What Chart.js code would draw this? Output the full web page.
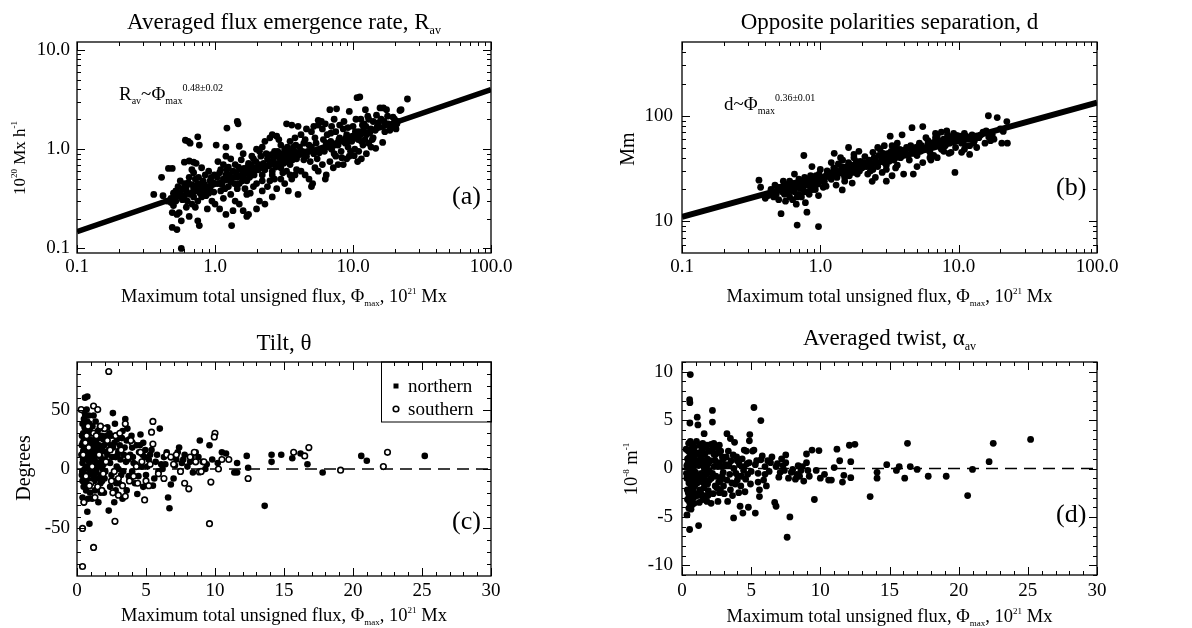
<!DOCTYPE html>
<html>
<head>
<meta charset="utf-8">
<script src="https://cdn.jsdelivr.net/npm/chart.js@4.4.1/dist/chart.umd.min.js"></script>
<style>
  body { margin: 0; background: #fff; }
  #wrap { position: relative; width: 1192px; height: 628px; }
  canvas { position: absolute; }
</style>
</head>
<body>
<div id="wrap">
  <canvas id="panelA" width="596" height="314" style="left:0;top:0"></canvas>
  <canvas id="panelB" width="596" height="314" style="left:596px;top:0"></canvas>
  <canvas id="panelC" width="596" height="314" style="left:0;top:314px"></canvas>
  <canvas id="panelD" width="596" height="314" style="left:596px;top:314px"></canvas>
</div>
<script>
const SERIF = '"Liberation Serif", "DejaVu Serif", serif';

// ---------------------------------------------------------------------------
// Data: [flux (1e21 Mx), value]
// ---------------------------------------------------------------------------
const rateAvPoints = [
  [0.36,0.35],[0.41,0.52],[0.46,0.64],[0.49,0.64],[0.42,0.34],[0.45,0.30],[0.48,0.29],[0.50,0.27],[0.48,0.32],[0.50,0.36],
  [0.49,0.163],[0.53,0.155],[0.57,0.10],[0.49,0.23],[0.53,0.22],[0.55,0.23],[0.57,0.19],[0.52,0.38],[0.55,0.34],[0.54,0.42],
  [0.56,0.36],[0.58,0.31],[0.60,0.33],[0.62,0.38],[0.60,0.45],[0.63,0.30],
  [0.61,1.23],[0.64,1.20],[0.66,1.15],[0.75,1.33],[0.77,1.10],[0.60,0.74],[0.65,0.76],[0.70,0.74],[0.73,0.72],[0.68,0.62],
  [0.72,0.50],[0.65,0.52],[0.75,0.45],[0.80,0.42],[0.85,0.40],[0.90,0.42],[0.68,0.28],[0.72,0.26],[0.75,0.30],[0.80,0.33],
  [0.78,0.36],[0.83,0.35],[0.88,0.38],[0.95,0.44],[0.65,0.21],[0.75,0.19],[0.77,0.17],[0.62,0.26],[0.70,0.40],[0.85,0.55],
  [0.92,0.48],[0.98,0.37],[0.95,0.30],[0.88,0.25],[0.70,0.58],[0.80,0.65],[0.90,0.60],
  [0.52,0.30],[0.58,0.40],[0.62,0.42],[0.66,0.35],[0.70,0.33],[0.74,0.38],[0.78,0.44],[0.82,0.48],[0.86,0.34],[0.90,0.36],
  [0.94,0.52],[0.97,0.46],[0.56,0.48],[0.64,0.46],[0.68,0.44],[0.72,0.42],[0.76,0.52],[0.84,0.44],[0.92,0.40],[0.99,0.55],
  [1.02,1.10],[1.20,1.05],[1.22,1.63],[1.45,1.90],[1.47,1.80],[1.50,1.07],[1.32,0.17],[1.05,0.75],[1.10,0.62],[1.15,0.50],
  [1.20,0.55],[1.25,0.42],[1.30,0.47],[1.05,0.45],[1.10,0.38],[1.15,0.32],[1.00,0.28],[1.08,0.25],[1.20,0.22],[1.30,0.35],
  [1.35,0.60],[1.40,0.70],[1.45,0.52],[1.50,0.45],[1.55,0.62],[1.60,0.56],[1.65,0.50],[1.70,0.48],[1.75,0.72],[1.80,0.60],
  [1.85,0.55],[1.40,0.30],[1.50,0.28],[1.60,0.24],[1.70,0.21],[1.75,0.22],[1.80,0.36],[1.90,0.42],[1.95,0.65],[1.90,0.80],
  [1.20,0.85],[1.30,0.80],[1.60,0.90],[1.70,0.35],[1.35,0.24],[1.45,0.40],
  [1.04,0.52],[1.08,0.58],[1.12,0.44],[1.18,0.40],[1.22,0.62],[1.27,0.55],[1.33,0.52],[1.38,0.45],[1.42,0.58],[1.48,0.66],
  [1.52,0.54],[1.58,0.48],[1.62,0.64],[1.68,0.58],[1.72,0.66],[1.78,0.52],[1.82,0.70],[1.88,0.62],[1.92,0.55],[1.98,0.75],
  [1.15,0.70],[1.25,0.66],[1.55,0.78],[1.85,0.85],[1.65,0.40],
  [2.00,1.00],[2.10,0.95],[2.20,1.05],[2.30,1.20],[2.50,1.30],[2.60,1.40],[2.80,1.35],[3.30,1.80],[3.60,1.75],[4.00,1.70],
  [3.00,1.10],[3.20,1.00],[3.40,0.95],[3.50,1.20],[3.70,1.05],[2.10,0.70],[2.20,0.55],[2.30,0.62],[2.40,0.80],[2.50,0.75],
  [2.60,0.60],[2.70,0.50],[2.80,0.85],[2.90,0.70],[3.00,0.65],[3.10,0.82],[3.30,0.75],[3.50,0.70],[3.70,0.85],[3.90,0.80],
  [2.00,0.45],[2.20,0.38],[2.40,0.42],[2.60,0.33],[2.80,0.40],[3.00,0.50],[3.20,0.45],[3.40,0.38],[3.60,0.50],[3.80,0.55],
  [4.00,0.35],[2.10,0.30],[2.30,0.28],[2.00,0.25],[2.50,0.48],[3.30,0.60],[3.90,0.62],[2.70,0.95],[3.60,0.90],
  [2.05,0.62],[2.15,0.85],[2.25,0.72],[2.35,0.90],[2.45,0.68],[2.55,0.88],[2.65,0.78],[2.75,0.66],[2.85,0.95],[2.95,0.82],
  [3.05,0.90],[3.15,0.72],[3.25,0.88],[3.35,1.05],[3.45,0.82],[3.55,0.95],[3.65,0.78],[3.75,0.95],[3.85,1.10],[3.95,0.92],
  [2.20,0.48],[2.60,0.55],[3.10,0.58],[3.50,0.55],[2.90,1.25],[3.80,1.30],
  [4.20,1.40],[4.50,1.25],[4.80,1.10],[5.00,1.50],[5.30,1.30],[5.60,1.95],[5.60,1.75],[6.00,1.60],[6.50,1.40],[6.80,2.50],
  [7.60,2.55],[7.00,1.70],[7.50,1.50],[8.00,1.30],[8.50,1.60],[9.00,1.40],[9.40,2.40],[9.80,1.20],[4.30,0.95],[4.60,0.85],
  [4.90,0.75],[5.20,0.90],[5.50,0.80],[5.80,1.00],[6.20,0.95],[6.60,1.05],[7.00,1.00],[7.30,0.90],[7.80,1.10],[8.20,0.95],
  [8.80,1.15],[9.20,1.05],[9.60,0.95],[4.20,0.60],[4.50,0.55],[4.80,0.50],[5.10,0.45],[5.30,0.65],[5.60,0.60],[6.00,0.70],
  [6.40,0.55],[6.80,0.75],[7.20,0.65],[7.80,0.70],[8.50,0.70],[9.00,0.80],[9.40,0.85],[10.2,0.86],[5.00,0.42],[6.30,0.50],
  [7.50,0.85],[8.30,0.82],[4.40,0.78],[5.90,1.90],[7.30,2.00],[8.00,1.75],
  [4.10,1.05],[4.40,1.15],[4.70,0.95],[5.00,1.05],[5.40,1.15],[5.70,0.92],[6.10,1.25],[6.40,1.15],[6.90,1.20],[7.40,1.10],
  [7.90,1.25],[8.40,1.20],[8.90,1.30],[9.30,1.20],[9.90,1.35],[4.60,1.60],[5.20,1.70],[6.30,1.80],[6.90,1.45],[8.60,1.90],
  [9.20,1.65],
  [10.7,3.30],[11.2,3.35],[12.3,2.50],[15.7,2.60],[16.6,2.60],[17.5,2.50],[21.9,2.45],[22.3,2.50],[24.8,3.20],[20.5,1.60],
  [16.4,1.17],[14.6,1.02],[10.5,1.30],[11.0,1.50],[11.5,1.20],[12.0,1.80],[12.5,1.40],[13.0,2.00],[13.5,1.60],[14.0,1.90],
  [15.0,1.70],[16.0,2.00],[17.0,1.50],[18.0,1.80],[19.0,1.70],[20.0,2.00],[21.0,1.90],[10.3,1.00],[11.0,0.95],[11.8,1.10],
  [12.5,0.90],[13.0,1.15],[10.8,0.75],[11.5,0.80],[12.2,1.25],[14.0,1.30],[13.5,1.05],[10.0,1.70],[10.5,2.00],[11.4,2.00],
  [10.4,1.50],[10.9,1.25],[11.3,1.40],[11.9,1.55],[12.4,1.70],[13.2,1.45],[14.5,1.55],[15.3,1.85],[16.8,1.90],[18.5,1.55],
  [19.5,2.10],[14.8,2.20],[12.8,2.15],[17.8,2.15],[20.8,1.80],[11.7,1.75],[13.8,1.25]
];

const separationPoints = [
  [0.36,24.5],[0.37,21],[0.40,16.5],[0.42,17.5],[0.45,19],[0.47,22],[0.48,18],[0.50,20],[0.50,16],[0.52,11.8],
  [0.52,21],[0.54,24],[0.55,18],[0.56,15.5],[0.57,19.5],[0.58,22],[0.60,17],[0.60,20],
  [0.44,20],[0.46,17],[0.49,21],[0.53,19],[0.55,22.5],[0.58,18.5],
  [0.62,23],[0.63,16],[0.65,19],[0.66,21],[0.67,14.5],[0.68,9.2],[0.70,18],[0.70,25],[0.72,22],[0.73,17],
  [0.75,20],[0.76,42],[0.77,26],[0.78,15],[0.80,12.2],[0.80,23],[0.82,19],[0.83,18],[0.85,27],[0.86,21],
  [0.87,33],[0.88,24],[0.90,22],[0.92,20],[0.95,26],[0.97,17.5],[0.97,8.9],[1.00,31],[1.00,24],[0.60,24],[0.65,28],
  [0.61,21],[0.63,19.5],[0.66,23],[0.68,17],[0.71,20.5],[0.74,23.5],[0.77,19],[0.79,22],[0.81,25],[0.84,21.5],
  [0.88,20],[0.91,24.5],[0.93,27],[0.96,22.5],[0.98,28],
  [1.05,21],[1.10,21.5],[1.10,27],[1.15,29],[1.20,25],[1.26,44],[1.25,32],[1.30,28],[1.35,35],[1.40,30],
  [1.44,19.8],[1.45,38],[1.50,26],[1.55,33],[1.60,50],[1.60,36],[1.65,29],[1.70,31],[1.75,40],[1.80,34],
  [1.85,28],[1.90,46],[1.95,37],[2.00,32],[1.30,22],[1.50,24],[1.70,23],
  [1.03,26],[1.07,24],[1.12,30],[1.17,26.5],[1.22,28.5],[1.28,31],[1.32,26],[1.37,29],[1.42,33],[1.47,28],
  [1.52,30],[1.58,32],[1.62,27],[1.68,34],[1.72,29],[1.78,31],[1.82,37],[1.88,33],[1.92,30],[1.98,35],
  [1.20,36],[1.40,40],[1.75,43],
  [2.10,41],[2.20,35],[2.30,30],[2.37,23.9],[2.40,45],[2.50,38],[2.60,33],[2.70,48],[2.80,40],[2.90,36],
  [3.00,24],[3.00,31],[3.10,44],[3.20,64],[3.30,42],[3.40,38],[3.50,50],[3.60,34],[3.70,46],[3.80,40],
  [3.90,66],[4.00,28],[4.00,44],[2.20,28],[2.50,26],[2.80,29],[3.30,27],[3.60,55],[2.90,52],
  [2.05,36],[2.15,33],[2.25,38],[2.35,35],[2.45,40],[2.55,36],[2.65,42],[2.75,37],[2.85,44],[2.95,39],
  [3.05,41],[3.15,37],[3.25,46],[3.35,43],[3.45,40],[3.55,45],[3.65,42],[3.75,48],[3.85,44],[3.95,47],
  [2.40,31],[3.00,34],[3.50,32],[2.60,50],[3.30,52],
  [4.20,50],[4.40,38],[4.60,77],[4.70,28],[4.80,45],[5.00,42],[5.20,55],[5.50,79],[5.50,36],[5.80,48],
  [6.00,58],[6.20,45],[6.50,52],[6.80,62],[7.00,40],[7.20,56],[7.50,48],[7.80,60],[8.00,52],[8.30,66],
  [8.60,55],[9.00,62],[9.40,29],[9.50,50],[9.80,58],[4.50,52],[5.30,46],[6.30,38],[7.00,65],[8.80,45],
  [5.00,33],[6.60,42],
  [4.10,46],[4.30,42],[4.50,48],[4.70,44],[4.90,50],[5.10,47],[5.40,52],[5.70,49],[6.00,54],[6.30,51],
  [6.60,56],[6.90,53],[7.30,58],[7.70,54],[8.10,60],[8.50,57],[8.90,63],[9.30,58],[9.70,65],[5.80,62],
  [6.80,68],[7.50,70],[8.20,72],[9.20,68],[6.20,40],[7.80,46],[8.50,44],
  [10.2,64],[10.5,55],[11.0,68],[11.5,60],[12.0,43],[12.0,52],[12.5,66],[13.0,58],[14.0,62],[15.0,70],
  [16.4,100],[16.5,63],[17.0,58],[18.0,60],[19.0,96],[20.5,55],[21.0,71],[22.3,88],[22.5,55],[20.0,75],
  [15.5,55],[13.5,50],[11.0,48],[10.5,45],
  [10.3,62],[10.8,58],[11.3,64],[11.8,62],[12.3,60],[13.3,64],[14.5,66],[15.8,72],[17.5,66],[12.8,55],[11.2,52]
];

const tiltNorthPoints = [
  [0.58,60],[0.75,61],[0.40,-24],[0.50,-28],[0.75,-36],[0.90,-46],[0.35,-5],[0.40,5],[0.45,15],[0.50,25],
  [0.55,35],[0.60,45],[0.65,40],[0.70,30],[0.75,20],[0.80,10],[0.85,0],[0.90,-10],[0.95,5],[0.40,-10],
  [0.50,10],[0.60,20],[0.70,-15],[0.80,35],[0.90,25],[1.00,15],[0.45,30],[0.55,0],[0.65,-5],[0.75,8],
  [0.85,45],[0.95,-20],[0.50,42],[0.60,-12],[0.70,50],[0.80,-25],[0.90,38],[0.35,20],[0.40,38],
  [0.32,12],[0.36,28],[0.38,-2],[0.42,22],[0.44,8],[0.48,-15],[0.52,18],[0.54,48],[0.56,-8],[0.58,30],
  [0.62,12],[0.64,26],[0.66,-18],[0.68,16],[0.72,2],[0.74,40],[0.76,-8],[0.78,24],[0.82,18],[0.84,-14],
  [0.86,30],[0.88,6],[0.92,12],[0.94,32],[0.96,-4],[0.98,22],
  [1.05,30],[1.10,20],[1.15,10],[1.20,0],[1.25,-10],[1.30,25],[1.35,40],[1.40,15],[1.45,5],[1.50,-15],
  [1.55,-28],[1.60,20],[1.65,35],[1.70,10],[1.75,-5],[1.80,28],[1.85,0],[1.90,15],[1.95,-20],[2.00,8],
  [1.10,-25],[1.30,-18],[1.50,32],[1.70,-12],[1.90,25],[1.20,45],[1.40,-2],[1.60,5],[1.80,18],[2.00,-8],
  [1.02,4],[1.08,12],[1.12,36],[1.18,-6],[1.22,18],[1.28,8],[1.32,-4],[1.38,22],[1.42,30],[1.48,12],
  [1.52,2],[1.58,-8],[1.62,26],[1.68,16],[1.72,-20],[1.78,6],[1.82,-10],[1.88,34],[1.92,4],[1.98,20],
  [2.10,22],[2.20,12],[2.30,-35],[2.35,30],[2.40,5],[2.50,-5],[2.60,47],[2.60,18],[2.70,-28],[2.75,38],
  [2.80,10],[2.85,-12],[2.90,25],[3.00,0],[2.20,35],[2.50,28],[2.80,-18],[2.40,-15],[3.00,15],
  [2.05,-2],[2.15,28],[2.25,6],[2.32,16],[2.45,20],[2.55,10],[2.65,-10],[2.72,22],[2.88,2],[2.95,12],
  [3.10,20],[3.20,-5],[3.30,32],[3.40,12],[3.50,42],[3.60,-18],[3.70,8],[3.80,25],[3.90,-8],[4.00,18],
  [4.10,5],[4.20,-12],[4.37,-21],[4.50,14],[4.60,29],[4.70,2],[4.80,22],[4.90,10],[5.00,-5],[3.30,-25],
  [3.60,24],[4.00,-2],[4.30,20],[4.80,-15],
  [3.05,-12],[3.15,8],[3.25,26],[3.35,-2],[3.45,18],[3.55,6],[3.65,34],[3.75,-6],[3.85,12],[3.95,28],
  [4.05,10],[4.25,4],[4.45,-6],[4.55,20],[4.75,12],[4.95,16],
  [5.20,8],[5.40,16],[5.60,-8],[5.80,12],[6.00,34],[6.10,4],[6.30,10],[6.50,14],[6.60,-24],[6.70,-33],
  [6.80,-13],[7.00,-8],[7.20,8],[7.40,18],[7.60,5],[7.80,12],[8.00,2],[8.30,10],[8.60,14],[8.90,24],
  [9.10,6],[9.30,0],[9.60,20],[5.50,-14],[6.20,0],[7.10,3],[8.40,-3],[9.80,8],
  [5.10,2],[5.30,12],[5.70,6],[5.90,-2],[6.40,4],[6.90,10],[7.30,14],[7.70,8],[8.20,6],[8.80,10],[9.40,4],
  [10.5,14],[10.8,13],[11.4,-3],[11.6,-3],[11.6,5],[12.3,11],[12.4,1],[13.6,-31],[14.1,12],[14.1,6],
  [14.8,12],[15.6,9],[16.2,13],[16.7,4],[17.8,-3],[20.6,11],[21.0,7],[25.2,11],[10.2,5]
];

const tiltSouthPoints = [
  [2.3,82],[0.3,50],[1.2,53],[1.5,50],[0.4,-50],[1.2,-66],[0.4,-82],[2.75,-44],[3.0,-22],[3.5,-23],
  [4.9,-26],[5.5,40],[5.4,31],[5.5,21],[9.6,-46],[9.7,-11],[10.0,30],[9.95,27],[16.8,18],[19.1,-1],
  [22.2,2],[22.5,14],[15.7,14],[16.5,11],[12.4,-8],[6.3,-8],[11.0,8],[10.25,0],[8.87,-2.5],[8.1,-16.7],
  [0.5,-28],[0.6,22],[0.8,36],[1.0,-12],[1.2,30],[1.5,-15],[1.8,-18],[2.0,34],[2.2,24],[2.5,-10],
  [2.8,28],[3.0,-8],[3.2,16],[3.5,38],[3.8,-10],[4.0,22],[4.3,2],[4.7,6],[5.0,-10],[5.2,-14],
  [6.5,12],[7.0,4],[7.5,-2],[7.8,-12],[8.2,10],[8.6,6],[9.0,-2],[10.5,8],[0.9,-14],[1.4,28],[2.6,-20],
  [0.45,12],[0.65,-6],[0.85,18],[1.1,2],[1.3,-24],[1.6,12],[1.9,-4],[2.1,6],[2.4,16],[2.7,-2],
  [3.1,30],[3.3,-14],[3.7,10],[4.1,-6],[4.4,-12],[4.6,14],[5.3,4],[5.9,-4],[6.8,10],[7.2,12],
  [8.5,14],[9.2,6],[3.9,24],[1.7,36],[0.7,28]
];

const twistPoints = [
  [0.60,9.7],[0.55,7.1],[0.57,6.8],[0.57,4.7],[0.55,-6.3],[0.36,-4.8],[0.30,2.0],[0.35,-1],[0.40,1],[0.45,-2.5],
  [0.50,0.5],[0.55,-3.5],[0.60,2.8],[0.65,-0.5],[0.70,1.5],[0.75,-1.8],[0.80,0.2],[0.85,-3],[0.90,2.2],[0.95,-1.2],
  [1.00,0.8],[0.40,-3.2],[0.50,-1.5],[0.60,-0.2],[0.70,-2.5],[0.80,1.2],[0.90,-0.8],[0.35,0.3],[0.45,1.8],[0.65,-4.2],
  [0.75,2.5],[0.85,-1.3],[0.95,0.5],[0.50,-4.1],[0.70,-3.8],
  [0.32,-0.5],[0.38,-2.2],[0.42,0.5],[0.46,-0.8],[0.48,2.6],[0.52,-2.8],[0.54,1.2],[0.58,-1.2],[0.62,0.6],[0.64,-2.0],
  [0.66,2.0],[0.68,-1.0],[0.72,0.2],[0.74,-3.0],[0.76,1.0],[0.78,-0.6],[0.82,-2.2],[0.84,1.8],[0.86,-0.2],[0.88,-3.6],
  [0.92,-1.8],[0.94,1.4],[0.96,-2.6],[0.98,-0.4],
  [1.10,5.3],[1.15,4.5],[1.20,-5.9],[1.60,3.6],[1.05,2.8],[1.10,-1.5],[1.20,0.3],[1.30,-2.2],[1.35,1.2],[1.40,-0.5],
  [1.45,2.0],[1.50,-3.2],[1.55,0.8],[1.60,-1.0],[1.65,1.5],[1.70,-2.8],[1.75,0.2],[1.80,2.4],[1.85,-1.6],[1.90,0.5],
  [1.95,-0.2],[2.00,1.8],[1.25,-3.5],[1.50,2.6],[1.70,-0.4],[1.90,-2.3],[1.30,0.9],[1.80,-3.4],
  [1.02,-1.0],[1.08,0.6],[1.12,-2.8],[1.18,1.6],[1.22,-1.2],[1.28,2.4],[1.32,-0.8],[1.38,-2.6],[1.42,0.4],[1.48,-1.4],
  [1.52,1.6],[1.58,-2.0],[1.62,0.0],[1.68,2.2],[1.72,-1.6],[1.78,-0.6],[1.82,1.0],[1.88,-2.8],[1.92,1.8],[1.98,-1.2],
  [2.20,6.0],[2.20,4.8],[2.10,2.5],[2.20,-0.5],[2.30,1.5],[2.40,-1.8],[2.50,2.2],[2.60,0.2],[2.70,-2.5],[2.80,1.8],
  [2.90,-0.8],[3.00,1.0],[2.10,-3.6],[2.40,0.8],[2.60,-3.4],[2.80,-1.2],[3.00,-1.8],[2.30,2.6],[2.70,2.4],
  [2.05,0.8],[2.12,-1.0],[2.18,2.0],[2.25,-2.6],[2.32,0.2],[2.38,1.4],[2.45,-0.8],[2.52,-2.0],[2.58,1.6],[2.65,-1.4],
  [2.72,0.6],[2.78,-2.2],[2.85,0.2],[2.92,1.2],[2.98,-0.4],
  [3.25,3.6],[3.50,3.1],[3.30,-3.4],[3.40,0.4],[3.60,-1.5],[3.70,1.4],[3.73,-5.1],[3.80,2.7],[3.90,-0.5],[4.00,0.8],
  [4.10,-2.5],[4.20,-3.9],[4.30,-0.8],[4.40,-4.6],[4.50,1.9],[4.60,-1.1],[4.70,0.5],[4.80,-4.0],[4.87,2.86],[4.90,3.5],
  [5.00,-0.3],[3.50,-2.2],[4.00,-1.2],[4.50,0.2],[3.20,1.2],
  [3.05,-2.6],[3.15,0.4],[3.25,-1.2],[3.35,1.8],[3.45,-0.6],[3.55,0.8],[3.65,-2.8],[3.75,0.0],[3.85,-1.6],[3.95,1.2],
  [4.05,-0.8],[4.15,0.4],[4.25,-1.8],[4.35,1.0],[4.45,-0.2],[4.55,-2.4],[4.65,1.8],[4.75,-0.6],[4.85,0.6],[4.95,-1.6],
  [5.20,6.3],[5.70,4.95],[5.30,-4.6],[5.60,-2.9],[5.20,1.9],[5.40,0.8],[5.50,-0.5],[5.80,1.3],[5.90,-1.2],[6.00,0.2],
  [6.20,0.8],[6.30,-0.3],[6.50,1.2],[6.70,-3.5],[6.80,-3.9],[6.90,0.5],[7.00,-0.9],[7.20,1.0],[7.40,-0.2],[7.50,1.4],
  [7.60,-7.1],[7.80,-5.0],[7.70,-1.0],[5.60,-2.2],[6.10,-1.8],[7.30,0.3],
  [5.10,1.8],[5.30,0.4],[5.50,-1.4],[5.70,0.9],[6.00,-0.6],[6.40,0.6],[6.80,0.2],[7.10,-0.4],[7.50,0.6],[7.90,-0.4],
  [8.30,-0.6],[8.70,0.2],[9.10,-0.2],
  [8.00,-0.1],[8.20,-1.1],[8.40,0.3],[8.60,-0.2],[8.80,-1.3],[9.00,0.6],[9.00,1.5],[9.20,-0.8],[9.40,1.9],[9.57,-3.2],
  [9.70,-0.2],[9.90,1.85],[10.0,-1.0],[10.3,-0.6],[10.6,-1.2],[10.8,-1.2],[11.2,2.0],[11.4,0.8],[11.6,-1.4],[11.7,-0.7],
  [12.1,2.4],[12.5,2.5],[12.2,0.7],[12.2,-0.95],[11.0,0.1],[8.50,-0.8],
  [13.6,-2.9],[14.1,-0.4],[14.1,-1.0],[14.8,0.4],[15.7,0.2],[15.5,-0.2],[16.1,-1.0],[16.3,2.6],[16.5,0.2],[17.0,-0.1],
  [17.8,-0.8],[19.1,-0.8],[20.65,-2.8],[21.0,-0.1],[22.2,0.7],[22.5,2.6],[25.2,3.0]
];

// Fitted power laws (end points read at the frame edges) and the zero line
const fitLineRate = [[0.1, 0.148], [100, 3.98]];
const fitLineSep = [[0.1, 11.0], [100, 133]];
const zeroLine = [[0, 0], [30, 0]];

// Tick values and labels
const logFluxTicks = [0.1, 1, 10, 100];
const logFluxLabels = ['0.1', '1.0', '10.0', '100.0'];
const rateTicks = [0.1, 1, 10];
const rateLabels = ['0.1', '1.0', '10.0'];
const sepTicks = [10, 100];
const sepLabels = ['10', '100'];
const linFluxTicks = [0, 5, 10, 15, 20, 25, 30];
const linFluxLabels = ['0', '5', '10', '15', '20', '25', '30'];
const tiltTicks = [-50, 0, 50];
const tiltLabels = ['-50', '0', '50'];
const twistTicks = [-10, -5, 0, 5, 10];
const twistLabels = ['-10', '-5', '0', '5', '10'];

/**
 * ============================================================================
 * Helpers
 * ============================================================================
 */
const toXY = pts => pts.map(([x, y]) => ({ x, y }));

function logMinor(decades) {
  const out = [];
  decades.forEach(d => { for (let m = 2; m <= 9; m++) out.push(d * m); });
  return out;
}
function stepValues(from, to, step) {
  const out = [];
  for (let v = from; v <= to + 1e-9; v += step) out.push(v);
  return out;
}

// Draw text pieces with sub/superscripts; y is the baseline
function drawRich(ctx, parts, x, y, size, align) {
  const fontFor = k => (k === 'n' ? size : Math.round(size * 0.5)) + 'px ' + SERIF;
  let total = 0;
  const widths = parts.map(([t, k]) => {
    ctx.font = fontFor(k);
    const w = ctx.measureText(t).width;
    total += w;
    return w;
  });
  let cx = align === 'center' ? x - total / 2 : x;
  ctx.textAlign = 'left';
  ctx.textBaseline = 'alphabetic';
  parts.forEach(([t, k], i) => {
    ctx.font = fontFor(k);
    const dy = k === 'sub' ? size * 0.22 : k === 'sup' ? -size * 0.45 : 0;
    ctx.fillText(t, cx, y + dy);
    cx += widths[i];
  });
}

/**
 * ============================================================================
 * Plugin: frame, inward ticks, titles, panel tag, legend
 * ============================================================================
 */
const panelDecor = {
  id: 'panelDecor',
  afterDraw(chart, args, o) {
    const ctx = chart.ctx;
    const a = chart.chartArea;
    const xs = chart.scales.x;
    const ys = chart.scales.y;
    ctx.save();
    ctx.strokeStyle = '#000';
    ctx.fillStyle = '#000';
    ctx.lineWidth = 1.3;
    ctx.strokeRect(a.left, a.top, a.right - a.left, a.bottom - a.top);

    ctx.lineWidth = 1;
    ctx.beginPath();
    const tickX = (vals, len) => vals.forEach(v => {
      const p = Math.round(xs.getPixelForValue(v)) + 0.5;
      ctx.moveTo(p, a.bottom); ctx.lineTo(p, a.bottom - len);
      ctx.moveTo(p, a.top); ctx.lineTo(p, a.top + len);
    });
    const tickY = (vals, len) => vals.forEach(v => {
      const p = Math.round(ys.getPixelForValue(v)) + 0.5;
      ctx.moveTo(a.left, p); ctx.lineTo(a.left + len, p);
      ctx.moveTo(a.right, p); ctx.lineTo(a.right - len, p);
    });
    tickX(o.xMajor, 8); tickX(o.xMinor, 4);
    tickY(o.yMajor, 8); tickY(o.yMinor, 4);
    ctx.stroke();

    const cx = (a.left + a.right) / 2;
    drawRich(ctx, o.title, cx, o.titleY, 23, 'center');
    drawRich(ctx, o.xTitle, cx, o.xTitleY, 18.5, 'center');
    ctx.save();
    ctx.translate(o.yTitleX, o.yTitleY);
    ctx.rotate(-Math.PI / 2);
    drawRich(ctx, o.yTitle, 0, 0, o.yTitleSize, 'center');
    ctx.restore();

    ctx.font = '26px ' + SERIF;
    ctx.textAlign = 'left';
    ctx.textBaseline = 'alphabetic';
    ctx.fillText(o.tag, o.tagX, o.tagY);

    if (o.formula) drawRich(ctx, o.formula, o.formulaX, o.formulaY, 19, 'left');

    if (o.legend) {
      const L = o.legend;
      ctx.lineWidth = 1;
      ctx.strokeRect(L.x + 0.5, a.top, a.right - L.x, L.h);
      ctx.fillRect(L.symX - 2.5, L.row1 - 8.5, 5, 5);
      ctx.beginPath();
      ctx.arc(L.symX, L.row2 - 6, 2.8, 0, Math.PI * 2);
      ctx.lineWidth = 1.6;
      ctx.stroke();
      ctx.font = '19px ' + SERIF;
      ctx.fillText('northern', L.textX, L.row1);
      ctx.fillText('southern', L.textX, L.row2);
    }
    ctx.restore();
  }
};

/**
 * ============================================================================
 * Builders
 * ============================================================================
 */
function buildAxis(type, min, max, values, labels, isX, size, pad) {
  return {
    type,
    min,
    max,
    afterBuildTicks: s => { s.ticks = values.map(v => ({ value: v })); },
    afterFit: s => { if (isX) s.height = size; else s.width = size; },
    grid: { display: false, drawTicks: false },
    border: { display: false },
    ticks: {
      color: '#000',
      font: { family: SERIF, size: 19 },
      padding: pad,
      maxRotation: 0,
      autoSkip: false,
      callback: (v, i) => labels[i],
    },
  };
}

function dotSet(points, radius) {
  return {
    type: 'scatter',
    data: toXY(points),
    pointRadius: radius,
    pointBackgroundColor: '#000',
    pointBorderWidth: 0,
    order: 1,
  };
}

function lineSet(points, width, dash) {
  return {
    type: 'line',
    data: toXY(points),
    borderColor: '#000',
    borderWidth: width,
    borderDash: dash || [],
    pointRadius: 0,
    fill: false,
    order: 2,
  };
}

function makePanel(id, datasets, padding, xAxis, yAxis, decor) {
  const ctx = document.getElementById(id).getContext('2d');
  return new Chart(ctx, {
    type: 'scatter',
    data: { datasets },
    options: {
      responsive: false,
      animation: false,
      devicePixelRatio: 1,
      events: [],
      layout: { padding },
      plugins: {
        legend: { display: false },
        tooltip: { enabled: false },
        panelDecor: decor,
      },
      scales: { x: xAxis, y: yAxis },
    },
    plugins: [panelDecor],
  });
}

const fluxTitle = [['Maximum total unsigned flux, Φ', 'n'], ['max', 'sub'], [', 10', 'n'], ['21', 'sup'], [' Mx', 'n']];

/**
 * ============================================================================
 * Panels
 * ============================================================================
 */
makePanel('panelA',
  [lineSet(fitLineRate, 5.5), dotSet(rateAvPoints, 3.4)],
  { left: 17, right: 105, top: 42, bottom: 0 },
  buildAxis('logarithmic', 0.1, 100, logFluxTicks, logFluxLabels, true, 61, 3),
  buildAxis('logarithmic', 0.09, 12, rateTicks, rateLabels, false, 60, 7),
  {
    xMajor: logFluxTicks, xMinor: logMinor([0.1, 1, 10]),
    yMajor: rateTicks, yMinor: logMinor([0.01, 0.1, 1, 10]).filter(v => v > 0.09 && v < 12),
    title: [['Averaged flux emergence rate, R', 'n'], ['av', 'sub']], titleY: 29,
    xTitle: fluxTitle, xTitleY: 302,
    yTitle: [['10', 'n'], ['20', 'sup'], [' Mx h', 'n'], ['-1', 'sup']], yTitleSize: 17,
    yTitleX: 25, yTitleY: 158,
    tag: '(a)', tagX: 452, tagY: 204,
    formula: [['R', 'n'], ['av', 'sub'], ['~Φ', 'n'], ['max', 'sub'], ['0.48±0.02', 'sup']],
    formulaX: 119, formulaY: 100,
  });

makePanel('panelB',
  [lineSet(fitLineSep, 6), dotSet(separationPoints, 3.4)],
  { left: 26, right: 95, top: 42, bottom: 0 },
  buildAxis('logarithmic', 0.1, 100, logFluxTicks, logFluxLabels, true, 61, 3),
  buildAxis('logarithmic', 5, 500, sepTicks, sepLabels, false, 60, 9),
  {
    xMajor: logFluxTicks, xMinor: logMinor([0.1, 1, 10]),
    yMajor: sepTicks, yMinor: logMinor([1, 10, 100]).filter(v => v > 5 && v < 500),
    title: [['Opposite polarities separation, d', 'n']], titleY: 29,
    xTitle: fluxTitle, xTitleY: 302,
    yTitle: [['Mm', 'n']], yTitleSize: 20, yTitleX: 38, yTitleY: 149,
    tag: '(b)', tagX: 460, tagY: 195,
    formula: [['d~Φ', 'n'], ['max', 'sub'], ['0.36±0.01', 'sup']],
    formulaX: 128, formulaY: 110,
  });

makePanel('panelC',
  [
    lineSet(zeroLine, 1.3, [12, 7]),
    dotSet(tiltNorthPoints, 3.3),
    {
      type: 'scatter',
      data: toXY(tiltSouthPoints),
      pointRadius: 2.8,
      pointBackgroundColor: '#fff',
      pointBorderColor: '#000',
      pointBorderWidth: 1.6,
      order: 0,
    },
  ],
  { left: 17, right: 105, top: 48, bottom: 0 },
  buildAxis('linear', 0, 30, linFluxTicks, linFluxLabels, true, 52, 4),
  buildAxis('linear', -90, 90, tiltTicks, tiltLabels, false, 60, 7),
  {
    xMajor: linFluxTicks, xMinor: stepValues(0, 30, 1),
    yMajor: tiltTicks, yMinor: stepValues(-80, 80, 10),
    title: [['Tilt, θ', 'n']], titleY: 36,
    xTitle: fluxTitle, xTitleY: 307,
    yTitle: [['Degrees', 'n']], yTitleSize: 20, yTitleX: 30, yTitleY: 154,
    tag: '(c)', tagX: 452, tagY: 215,
    legend: { x: 381, h: 60, symX: 396, textX: 408, row1: 78, row2: 101 },
  });

makePanel('panelD',
  [lineSet(zeroLine, 1.3, [12, 7]), dotSet(twistPoints, 3.4)],
  { left: 26, right: 95, top: 48, bottom: 0 },
  buildAxis('linear', 0, 30, linFluxTicks, linFluxLabels, true, 53, 5),
  buildAxis('linear', -11, 11, twistTicks, twistLabels, false, 60, 9),
  {
    xMajor: linFluxTicks, xMinor: stepValues(0, 30, 1),
    yMajor: twistTicks, yMinor: stepValues(-11, 11, 1),
    title: [['Averaged twist, α', 'n'], ['av', 'sub']], titleY: 31,
    xTitle: fluxTitle, xTitleY: 308,
    yTitle: [['10', 'n'], ['-8', 'sup'], [' m', 'n'], ['-1', 'sup']], yTitleSize: 18.5,
    yTitleX: 41, yTitleY: 155,
    tag: '(d)', tagX: 460, tagY: 208,
  });
</script>
</body>
</html>
